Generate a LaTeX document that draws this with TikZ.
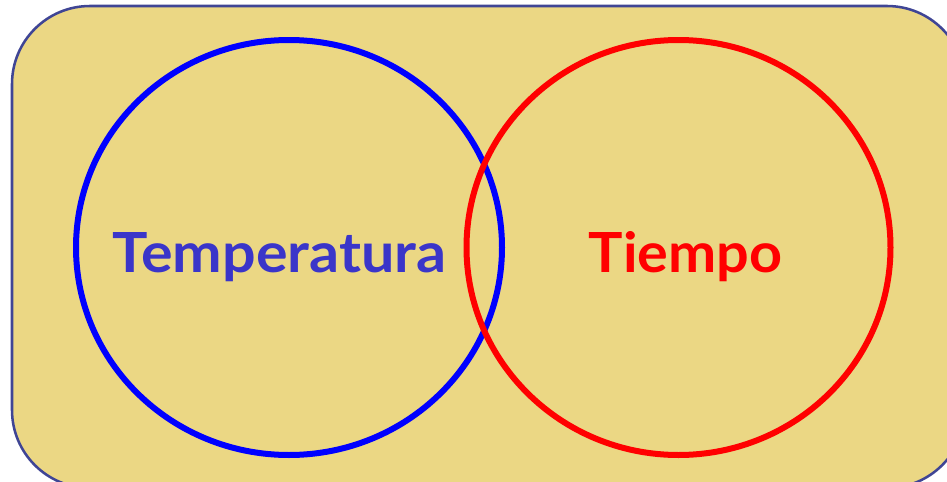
\documentclass[tikz,border=0pt]{standalone}
\usepackage{fontspec}
\setmainfont{Lato}
\definecolor{bgfill}{HTML}{EBD784}
\definecolor{bgline}{HTML}{3F4595}
\definecolor{tblue}{HTML}{3A35C9}
\begin{document}
\begin{tikzpicture}[x=0.75pt,y=-0.75pt,
  panel/.style={fill=bgfill,draw=bgline,line width=1.9pt,rounded corners=58.5pt},
  ring/.style={line width=4.5pt},
  lbl/.style={font=\bfseries\fontsize{41.5}{46}\selectfont,anchor=base,inner sep=0pt}]
\useasboundingbox (0,0) rectangle (947,482);
\clip (0,0) rectangle (947,482);
\draw[panel] (12,6) rectangle (965,488);
\draw[ring,draw=blue] (289,247.5) ellipse [x radius=213, y radius=207.5];
\draw[ring,draw=red] (678.5,247.5) ellipse [x radius=212, y radius=207.5];
\node[lbl,text=tblue] (temp) at (279.5,272) {\scalebox{1.07}[1]{Temperatura}};
\node[lbl,text=red] (tiempo) at (685.5,272) {\scalebox{1.04}[1]{Tiempo}};
\end{tikzpicture}
\end{document}
